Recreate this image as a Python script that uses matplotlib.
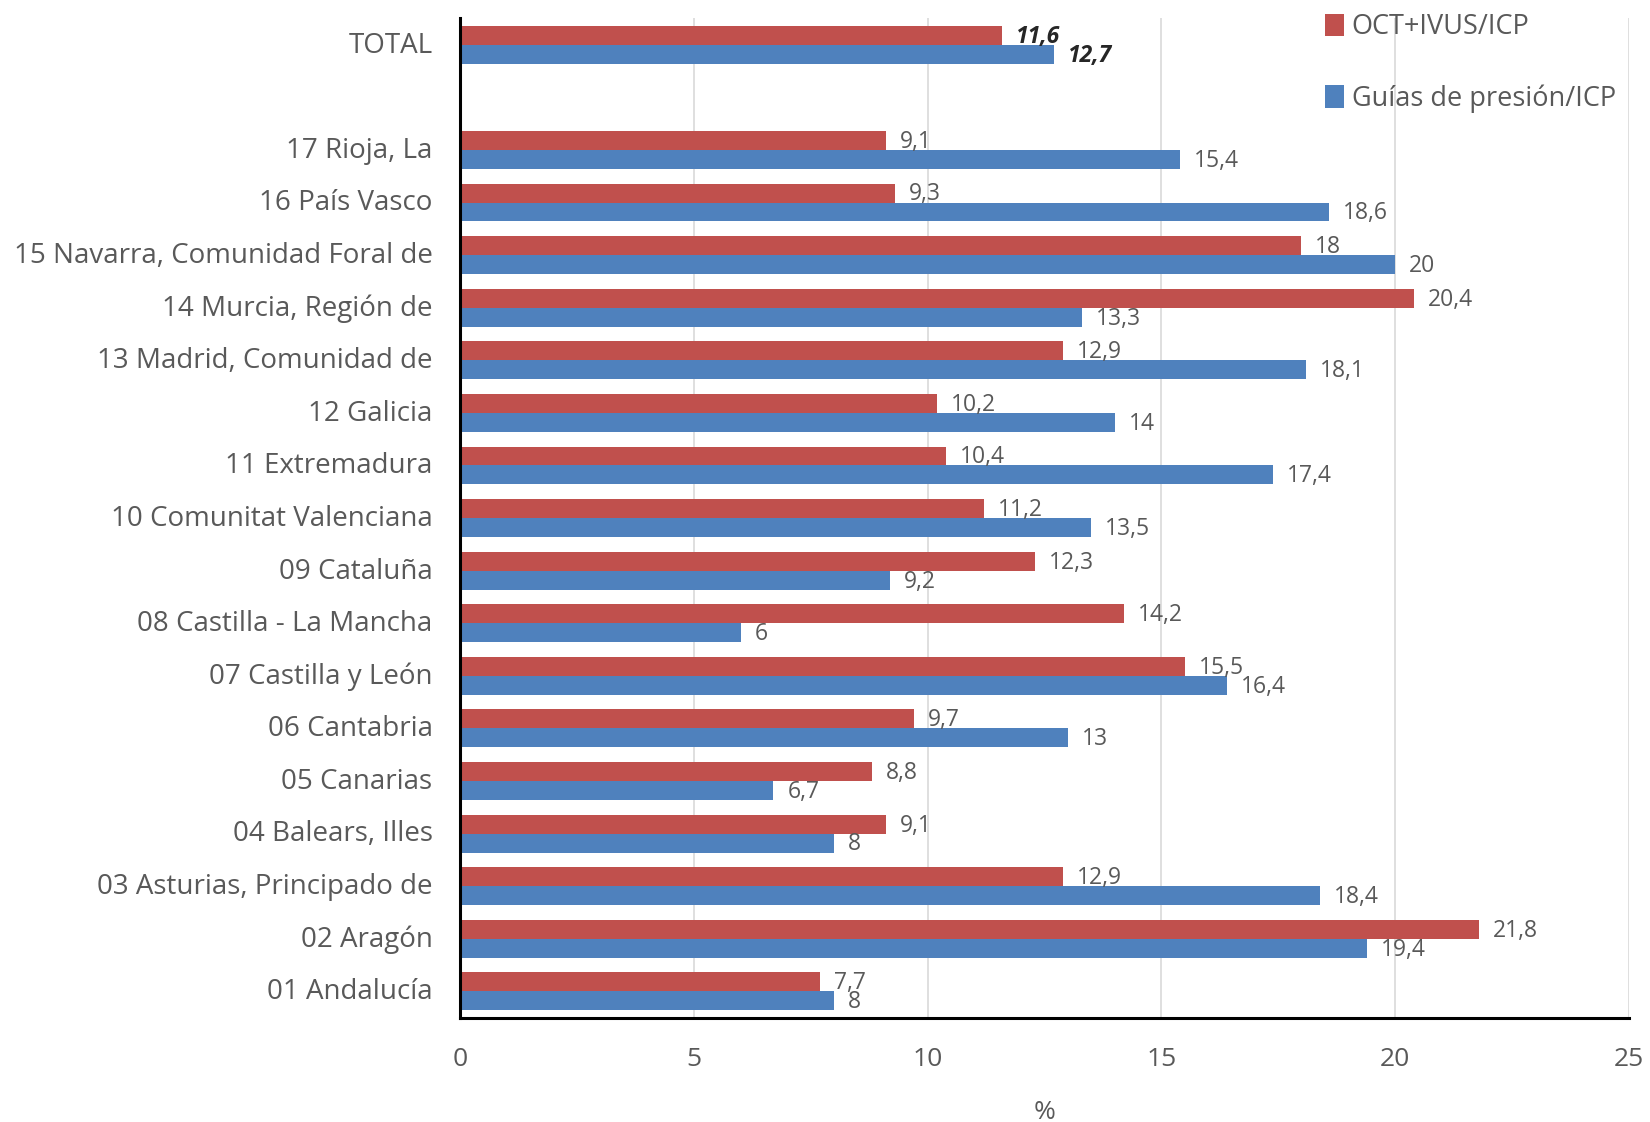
import numpy as np
import matplotlib.pyplot as plt

# regions, bottom to top (blank slot between 17 and TOTAL)
regions = ["01 Andalucía", "02 Aragón", "03 Asturias, Principado de", "04 Balears, Illes",
           "05 Canarias", "06 Cantabria", "07 Castilla y León", "08 Castilla - La Mancha",
           "09 Cataluña", "10 Comunitat Valenciana", "11 Extremadura", "12 Galicia",
           "13 Madrid, Comunidad de", "14 Murcia, Región de", "15 Navarra, Comunidad Foral de",
           "16 País Vasco", "17 Rioja, La"]
oct_ivus = [7.7, 21.8, 12.9, 9.1, 8.8, 9.7, 15.5, 14.2, 12.3, 11.2, 10.4, 10.2, 12.9, 20.4, 18, 9.3, 9.1]
guias = [8, 19.4, 18.4, 8, 6.7, 13, 16.4, 6, 9.2, 13.5, 17.4, 14, 18.1, 13.3, 20, 18.6, 15.4]
total_oct = 11.6
total_guias = 12.7

RED = "#C0504D"
BLUE = "#4F81BD"
GREY = "#595959"
FONT = ["Open Sans", "DejaVu Sans"]

plt.rcParams['font.family'] = FONT

labels = regions + ["", "TOTAL"]
red_vals = oct_ivus + [np.nan, total_oct]
blue_vals = guias + [np.nan, total_guias]
y = np.arange(len(labels))
h = 0.36
off = -0.05  # bars sit a touch below the category centre

fig = plt.figure(figsize=(16.5, 11.22), dpi=100)
ax = fig.add_axes([0.279, 0.093, 0.708, 0.891])

rb = ax.barh(y + off + h / 2, red_vals, height=h, color=RED, label="OCT+IVUS/ICP")
bb = ax.barh(y + off - h / 2, blue_vals, height=h, color=BLUE, label="Guías de presión/ICP")


def fmt(v):
    return f"{v:g}".replace(".", ",")


n = len(labels)
for i in range(n):
    if np.isnan(red_vals[i]):
        continue
    is_total = labels[i] == "TOTAL"
    kw = dict(fontsize=16.5, color="#262626" if is_total else GREY,
              fontweight="bold" if is_total else "normal",
              fontstyle="italic" if is_total else "normal",
              va="center", ha="left", textcoords="offset points")
    ax.annotate(fmt(red_vals[i]), (red_vals[i], y[i] + off + h / 2), xytext=(10, -1), **kw)
    ax.annotate(fmt(blue_vals[i]), (blue_vals[i], y[i] + off - h / 2), xytext=(10, -1), **kw)

ax.set_xlim(0, 25)
ax.set_ylim(-0.55, 18.46)
ax.set_xticks([0, 5, 10, 15, 20, 25])
ax.set_yticks(y)
ax.set_yticklabels(labels)
ax.tick_params(axis="y", length=0, pad=20, labelsize=20, labelcolor=GREY)
ax.tick_params(axis="x", length=0, pad=21, labelsize=19, labelcolor=GREY)
ax.xaxis.grid(True, color="#D9D9D9", linewidth=1.2)
ax.set_axisbelow(True)
for s in ["top", "right"]:
    ax.spines[s].set_visible(False)
for s in ["left", "bottom"]:
    ax.spines[s].set_linewidth(2.2)
    ax.spines[s].set_color("black")

ax.set_xlabel("%", fontsize=19, color=GREY, labelpad=20)

fig.legend(handles=[rb, bb], loc="upper left", bbox_to_anchor=(0.788, 1.01),
           frameon=False, fontsize=19.5, labelcolor=GREY, handlelength=0.7,
           handleheight=0.9, handletextpad=0.3, labelspacing=1.6)

fig.savefig("out.png", dpi=100)
